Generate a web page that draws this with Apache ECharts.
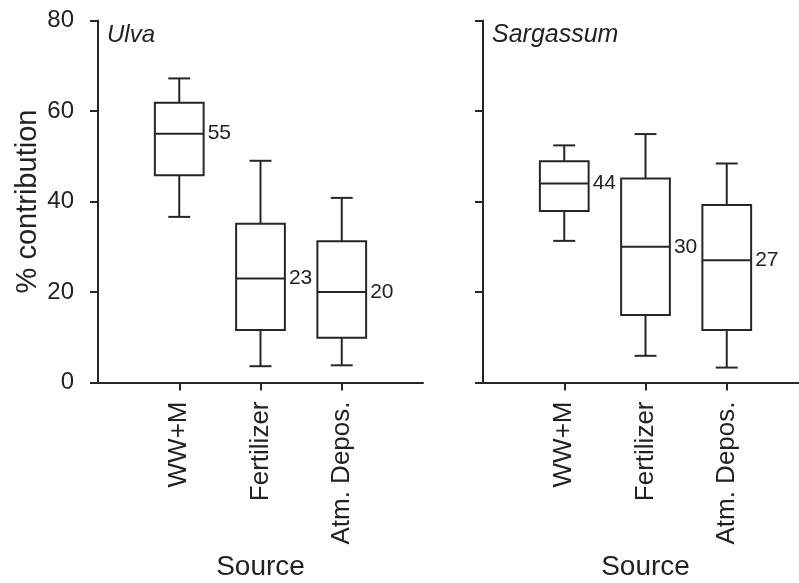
<!DOCTYPE html>
<html>
<head>
<meta charset="utf-8">
<script src="https://cdn.jsdelivr.net/npm/echarts@6/dist/echarts.min.js"></script>
<style>
  html, body { margin: 0; padding: 0; background: #fff; }
  #chart { width: 799px; height: 583px; }
</style>
</head>
<body>
<div id="chart"></div>
<script>
const categories = ['WW+M', 'Fertilizer', 'Atm. Depos.'];
// [min, q1, median, q3, max]
const ulvaBoxes = [
  [36.6, 45.8, 55, 61.8, 67.2],
  [3.6, 11.6, 23, 35.1, 49.0],
  [3.8, 9.9, 20, 31.2, 40.8]
];
const sargassumBoxes = [
  [31.3, 37.9, 44, 48.9, 52.4],
  [5.9, 14.9, 30, 45.1, 54.9],
  [3.3, 11.6, 27, 39.2, 48.4]
];
const yTicks = [0, 20, 40, 60, 80];
const panelNames = ['Ulva', 'Sargassum'];

const ink = '#262626';
const font = 'Liberation Sans, Arial, Helvetica, sans-serif';

// pad the category axis so the boxes sit at 1, 2, 3 of 0..4
const axisCats = [''].concat(categories, ['']);

const toRows = (boxes) => boxes.map((b, i) => [i + 1].concat(b));

const renderBox = (params, api) => {
  const x = api.value(0);
  const band = api.size([1, 0])[0];
  const half = band * 0.3;
  const cap = band * 0.135;
  const p = [1, 2, 3, 4, 5].map(d => api.coord([x, api.value(d)]));
  const cx = p[0][0];
  const st = {stroke: ink, lineWidth: 2, fill: null};
  const line = (x1, y1, x2, y2) => ({type: 'line', shape: {x1, y1, x2, y2}, style: st});
  return {
    type: 'group',
    children: [
      line(cx, p[4][1], cx, p[3][1]),
      line(cx, p[0][1], cx, p[1][1]),
      line(cx - cap, p[4][1], cx + cap, p[4][1]),
      line(cx - cap, p[0][1], cx + cap, p[0][1]),
      {type: 'rect', shape: {x: cx - half, y: p[3][1], width: half * 2, height: p[1][1] - p[3][1]},
        style: {stroke: ink, lineWidth: 2, fill: '#fff'}},
      line(cx - half, p[2][1], cx + half, p[2][1]),
      {type: 'text', x: cx + half + 4, y: p[2][1],
        style: {text: String(Math.round(api.value(3))), fill: '#222', fontSize: 21, fontFamily: font,
          align: 'left', verticalAlign: 'middle'}}
    ]
  };
};

const chart = echarts.init(document.getElementById('chart'), null, {renderer: 'canvas'});

const xAxisFor = (gridIndex) => ({
  type: 'category',
  gridIndex,
  data: axisCats,
  boundaryGap: false,
  name: 'Source',
  nameLocation: 'middle',
  nameGap: 171,
  nameTextStyle: {fontSize: 28, color: '#222', fontFamily: font},
  axisLine: {lineStyle: {color: ink, width: 2}},
  axisTick: {length: 8, lineStyle: {color: ink, width: 2}, interval: (i, v) => v !== ''},
  axisLabel: {rotate: 90, interval: 0, margin: 19, fontSize: 26, color: '#222', fontFamily: font},
  splitLine: {show: false}
});

const yAxisFor = (gridIndex, showLabels) => ({
  type: 'value',
  gridIndex,
  min: yTicks[0],
  max: yTicks[yTicks.length - 1],
  interval: yTicks[1] - yTicks[0],
  name: showLabels ? '% contribution' : '',
  nameLocation: 'middle',
  nameGap: 56,
  nameTextStyle: {fontSize: 29, color: '#222', fontFamily: font},
  axisLine: {show: true, lineStyle: {color: ink, width: 2}},
  axisTick: {show: true, length: 8, lineStyle: {color: ink, width: 2}},
  axisLabel: {show: showLabels, margin: 24, fontSize: 24, color: '#222', fontFamily: font},
  splitLine: {show: false}
});

const option = {
  animation: false,
  backgroundColor: '#fff',
  title: [
    {text: panelNames[0], left: 107, top: 23, padding: 0,
      textStyle: {fontSize: 24, fontStyle: 'italic', fontWeight: 'normal', color: '#222', fontFamily: font}},
    {text: panelNames[1], left: 492, top: 23, padding: 0,
      textStyle: {fontSize: 25, fontStyle: 'italic', fontWeight: 'normal', color: '#222', fontFamily: font}}
  ],
  grid: [
    {left: 98, top: 20.5, width: 325, height: 362, outerBoundsMode: 'none', containLabel: false},
    {left: 483, top: 20.5, width: 325, height: 362, outerBoundsMode: 'none', containLabel: false}
  ],
  xAxis: [xAxisFor(0), xAxisFor(1)],
  yAxis: [yAxisFor(0, true), yAxisFor(1, false)],
  series: [
    {type: 'custom', xAxisIndex: 0, yAxisIndex: 0, renderItem: renderBox,
      encode: {x: 0, y: [1, 2, 3, 4, 5]}, data: toRows(ulvaBoxes)},
    {type: 'custom', xAxisIndex: 1, yAxisIndex: 1, renderItem: renderBox,
      encode: {x: 0, y: [1, 2, 3, 4, 5]}, data: toRows(sargassumBoxes)}
  ]
};

chart.setOption(option);
window.addEventListener('resize', () => {
  chart.resize();
});
</script>
</body>
</html>
